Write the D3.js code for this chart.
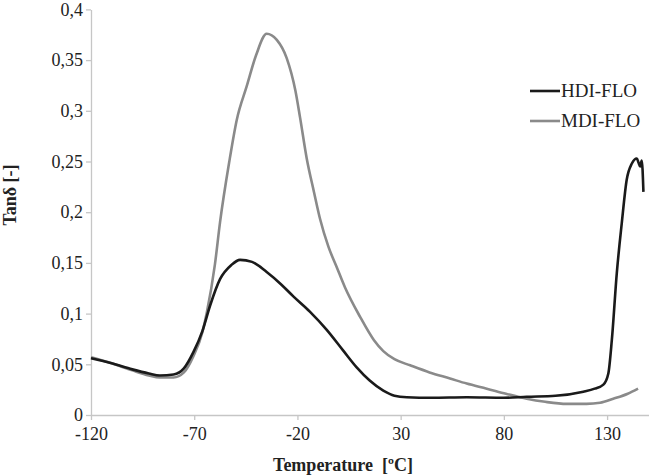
<!DOCTYPE html>
<html>
<head>
<meta charset="utf-8">
<script src="https://cdn.jsdelivr.net/npm/d3@7"></script>
<style>
  html, body { margin: 0; padding: 0; background: #fff; }
  svg { display: block; }
  text { font-family: "Liberation Serif", "Times New Roman", serif; fill: #222; }
</style>
</head>
<body>
<svg id="chart" width="649" height="476"></svg>
<script>
// ---- data ----
const xTicks = [-120, -70, -20, 30, 80, 130];
const yTicks = [0, 0.05, 0.1, 0.15, 0.2, 0.25, 0.3, 0.35, 0.4];
const seriesNames = ["HDI-FLO", "MDI-FLO"];

const hdiTemp = [-120, -110, -100, -92, -86.6, -80, -75, -70.4, -66, -62.3, -57.5, -52, -47.8, -42, -34.9, -28, -22, -14, -5.8, 2, 8.7, 15, 21.6, 27, 33, 45, 62, 80, 91.1, 105, 118.5, 124, 128.2, 130.6, 132.3, 134.7, 137.1, 139.5, 142.0, 144.4, 145.2, 146.0, 146.8, 147.6];
const hdiTan  = [0.056, 0.051, 0.045, 0.041, 0.039, 0.040, 0.046, 0.062, 0.083, 0.108, 0.134, 0.148, 0.153, 0.151, 0.141, 0.129, 0.117, 0.102, 0.084, 0.064, 0.047, 0.034, 0.024, 0.019, 0.0175, 0.017, 0.0175, 0.017, 0.018, 0.019, 0.023, 0.026, 0.030, 0.041, 0.074, 0.140, 0.189, 0.232, 0.248, 0.253, 0.249, 0.245, 0.251, 0.220];

const mdiTemp = [-120, -110, -100, -92, -86.6, -80, -75, -70.4, -66, -63.9, -60, -57.5, -53, -49.4, -44.6, -40, -34.9, -30, -25.2, -21, -18.7, -15.5, -12, -9.0, -5, -1.0, 3, 10.3, 17, 21.6, 27, 34.6, 44, 53.9, 62, 71.7, 81, 91.1, 100, 110.5, 120, 126.6, 133, 140, 145];
const mdiTan  = [0.057, 0.051, 0.044, 0.039, 0.037, 0.037, 0.042, 0.058, 0.082, 0.101, 0.148, 0.190, 0.250, 0.291, 0.324, 0.355, 0.376, 0.370, 0.352, 0.320, 0.293, 0.253, 0.220, 0.193, 0.166, 0.146, 0.126, 0.097, 0.074, 0.063, 0.055, 0.049, 0.042, 0.036, 0.031, 0.026, 0.021, 0.016, 0.013, 0.011, 0.011, 0.012, 0.016, 0.021, 0.026];

// ---- layout ----
const svg = d3.select("#chart");
const x = d3.scaleLinear().domain([-120, 150.3]).range([91, 649]);
const y = d3.scaleLinear().domain([0, 0.4]).range([415, 9.4]);
const axisColor = "#c6c6c6";
const fmt = d => String(d).replace(".", ",");

// x axis
const xAxis = svg.append("g").attr("transform", `translate(0,${y(0)})`)
  .call(d3.axisBottom(x).tickValues(xTicks).tickSize(5).tickSizeOuter(0).tickFormat(d => d));
xAxis.select(".domain").attr("stroke", axisColor).attr("stroke-width", 1.3);
xAxis.selectAll(".tick line").attr("stroke", axisColor).attr("stroke-width", 1.3);
xAxis.selectAll(".tick text").attr("font-size", 18).attr("font-family", "Liberation Serif").attr("fill", "#222").attr("y", 12);

// y axis
const yAxis = svg.append("g").attr("transform", `translate(${x(-120)},0)`)
  .call(d3.axisLeft(y).tickValues(yTicks).tickSize(5).tickSizeOuter(0).tickFormat(fmt));
yAxis.select(".domain").attr("stroke", axisColor).attr("stroke-width", 1.3);
yAxis.selectAll(".tick line").attr("stroke", axisColor).attr("stroke-width", 1.3);
yAxis.selectAll(".tick text").attr("font-size", 18).attr("font-family", "Liberation Serif").attr("fill", "#222").attr("x", -8);

// axis titles
svg.append("text").attr("x", 343).attr("y", 471).attr("text-anchor", "middle")
  .attr("font-size", 18).attr("font-weight", "bold").style("white-space", "pre")
  .text("Temperature  [ºC]");
svg.append("text").attr("transform", "translate(16,195) rotate(-90)").attr("text-anchor", "middle")
  .attr("font-size", 18).attr("font-weight", "bold").text("Tanδ [-]");

// lines
const line = d3.line().x(d => x(d[0])).y(d => y(d[1])).curve(d3.curveMonotoneX);
const mdi = mdiTemp.map((t, i) => [t, mdiTan[i]]);
const hdi = hdiTemp.map((t, i) => [t, hdiTan[i]]);
svg.append("path").datum(mdi).attr("d", line).attr("fill", "none")
  .attr("stroke", "#8a8a8a").attr("stroke-width", 2.6);
svg.append("path").datum(hdi).attr("d", line).attr("fill", "none")
  .attr("stroke", "#1a1a1a").attr("stroke-width", 2.6);

// legend
const legendColors = ["#1a1a1a", "#8a8a8a"];
const leg = svg.append("g");
seriesNames.forEach((name, i) => {
  const ly = 91 + i * 30;
  leg.append("line").attr("x1", 530).attr("x2", 560).attr("y1", ly).attr("y2", ly)
    .attr("stroke", legendColors[i]).attr("stroke-width", 2.6);
  leg.append("text").attr("x", 561).attr("y", ly + 6).attr("font-size", 19).text(name);
});
</script>
</body>
</html>
